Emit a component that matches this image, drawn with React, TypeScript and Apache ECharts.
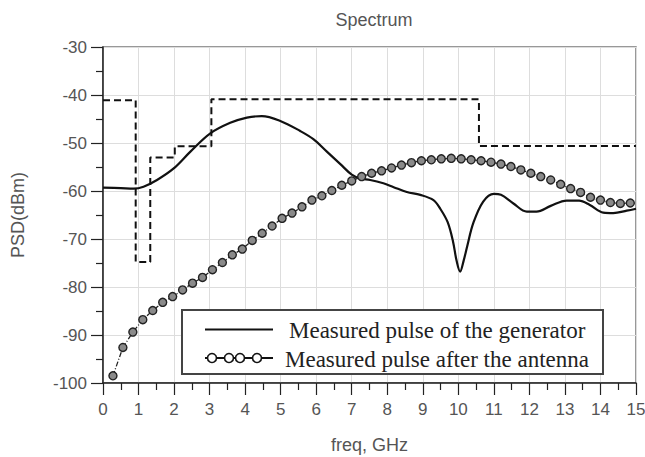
import React, { useEffect, useRef } from "react";
import * as echarts from "echarts";

// Measured pulse of the generator (solid)
const genFreq = [0, 0.5, 0.86, 1.14, 1.52, 1.99, 2.46, 3.02, 3.58, 4.05, 4.47, 4.99, 5.55, 5.92, 6.3, 6.68, 7.0, 7.24, 7.52, 7.89, 8.18, 8.55, 8.93, 9.3, 9.5, 9.7, 9.85, 9.95, 10.05, 10.15, 10.25, 10.42, 10.7, 11.0, 11.2, 11.55, 11.93, 12.2, 12.6, 13.05, 13.4, 13.7, 14.08, 14.36, 14.74, 15];
const genPsd = [-59.3, -59.4, -59.5, -59.1, -57.7, -55.3, -51.8, -48.0, -45.8, -44.7, -44.4, -45.4, -47.5, -49.2, -51.8, -54.4, -56.6, -57.4, -57.7, -58.4, -59.2, -60.2, -60.8, -61.9, -63.8, -66.5, -70.5, -74.5, -76.8, -74.5, -71.5, -66.7, -62.2, -60.6, -60.8, -62.6, -64.3, -64.3, -63.1, -62.0, -62.0, -62.9, -64.5, -64.6, -64.1, -63.7];

// Measured pulse after the antenna (circles)
const antFreq = [0.28, 0.56, 0.84, 1.12, 1.4, 1.68, 1.96, 2.24, 2.52, 2.8, 3.08, 3.36, 3.64, 3.92, 4.2, 4.48, 4.76, 5.04, 5.32, 5.6, 5.88, 6.16, 6.44, 6.72, 7.0, 7.28, 7.56, 7.84, 8.12, 8.4, 8.68, 8.96, 9.24, 9.52, 9.8, 10.08, 10.36, 10.64, 10.92, 11.2, 11.48, 11.76, 12.04, 12.32, 12.6, 12.88, 13.16, 13.44, 13.72, 14.0, 14.28, 14.56, 14.84];
const antPsd = [-98.5, -92.6, -89.4, -86.8, -84.9, -83.2, -82.0, -80.6, -79.2, -78.0, -76.4, -74.9, -73.3, -72.1, -70.3, -68.8, -67.3, -65.7, -64.6, -63.3, -61.9, -61.0, -59.9, -58.8, -57.9, -57.0, -56.3, -55.8, -55.2, -54.6, -54.1, -53.7, -53.5, -53.3, -53.2, -53.3, -53.5, -53.7, -54.0, -54.4, -54.9, -55.6, -56.3, -57.0, -57.7, -58.6, -59.5, -60.3, -61.3, -61.9, -62.4, -62.6, -62.5];

// Emission mask (dashed step line)
const maskFreq = [0, 0.92, 0.92, 1.33, 1.33, 2.02, 2.02, 3.05, 3.05, 10.58, 10.58, 15];
const maskPsd = [-41.1, -41.1, -74.8, -74.8, -53.0, -53.0, -50.7, -50.7, -40.9, -40.9, -50.6, -50.6];

const legendNames = ["Measured pulse of the generator", "Measured pulse after the antenna"];

const zip = (xs: number[], ys: number[]) => xs.map((x, i) => [x, ys[i]]);

export default function App() {
  const ref = useRef<HTMLDivElement>(null);
  useEffect(() => {
    if (!ref.current) return;
    const chart = echarts.init(ref.current, undefined, { renderer: "svg" });
    const fam = "Liberation Sans, Arial, sans-serif";
    const tickFont = { color: "#555", fontSize: 17, fontFamily: fam };
    const nameFont = { color: "#555", fontSize: 18, fontFamily: fam };
    chart.setOption({
      animation: false,
      backgroundColor: "#fff",
      title: {
        text: "Spectrum",
        left: 369,
        textAlign: "center",
        top: 6,
        textStyle: { ...nameFont, fontWeight: "normal" },
      },
      grid: {
        left: 103,
        right: 9,
        top: 47,
        bottom: 74,
        outerBoundsMode: "none",
        containLabel: false,
        show: true,
        borderColor: "#777",
        borderWidth: 1.5,
      },
      xAxis: {
        type: "value",
        min: 0,
        max: 15,
        interval: 1,
        name: "freq, GHz",
        nameLocation: "middle",
        nameGap: 53,
        nameTextStyle: nameFont,
        axisLine: { show: true, onZero: false, lineStyle: { color: "#222", width: 1.5 } },
        axisTick: { show: true, length: 12, lineStyle: { color: "#222", width: 1.2 } },
        minorTick: { show: true, splitNumber: 2, length: 7, lineStyle: { color: "#222", width: 1.2 } },
        axisLabel: { ...tickFont, margin: 18 },
        splitLine: { show: true, lineStyle: { color: "#ddd", width: 1 } },
      },
      yAxis: {
        type: "value",
        min: -100,
        max: -30,
        interval: 10,
        name: "PSD(dBm)",
        nameLocation: "middle",
        nameGap: 76,
        nameTextStyle: nameFont,
        axisLine: { show: true, onZero: false, lineStyle: { color: "#222", width: 1.5 } },
        axisTick: { show: true, length: 12, lineStyle: { color: "#222", width: 1.2 } },
        minorTick: { show: true, splitNumber: 2, length: 7, lineStyle: { color: "#222", width: 1.2 } },
        axisLabel: { ...tickFont, margin: 16 },
        splitLine: { show: true, lineStyle: { color: "#ddd", width: 1 } },
      },
      series: [
        {
          type: "line",
          name: "mask",
          data: zip(maskFreq, maskPsd),
          symbol: "none",
          lineStyle: { color: "#111", width: 2, type: [7, 4] },
        },
        {
          type: "line",
          name: legendNames[0],
          data: zip(genFreq, genPsd),
          symbol: "none",
          smooth: 0.35,
          lineStyle: { color: "#111", width: 2.2 },
        },
        {
          type: "line",
          name: legendNames[1],
          data: zip(antFreq, antPsd),
          symbol: "circle",
          symbolSize: 8,
          itemStyle: { color: "#8a8a8a", borderColor: "#222", borderWidth: 1.4 },
          lineStyle: { color: "#222", width: 1.3, type: [5, 2, 1, 2] },
        },
      ],
      graphic: [
        {
          type: "rect",
          shape: { x: 182, y: 310, width: 421, height: 64 },
          style: { fill: "#fff", stroke: "#444", lineWidth: 2 },
          z: 100,
        },
        {
          type: "line",
          shape: { x1: 205, y1: 329.5, x2: 273, y2: 329.5 },
          style: { stroke: "#111", lineWidth: 2.2 },
          z: 101,
        },
        {
          type: "line",
          shape: { x1: 205, y1: 358, x2: 273, y2: 358 },
          style: { stroke: "#111", lineWidth: 2 },
          z: 101,
        },
        ...[212, 229, 240, 257].map((cx) => ({
          type: "circle",
          shape: { cx, cy: 358, r: 4.5 },
          style: { fill: "#fff", stroke: "#111", lineWidth: 1.6 },
          z: 102,
        })),
        {
          type: "text",
          x: 289,
          y: 330,
          style: {
            text: legendNames[0],
            fill: "#222",
            font: "23px 'Liberation Serif', 'Times New Roman', serif",
            verticalAlign: "middle",
          },
          z: 103,
        },
        {
          type: "text",
          x: 285,
          y: 359,
          style: {
            text: legendNames[1],
            fill: "#222",
            font: "23px 'Liberation Serif', 'Times New Roman', serif",
            verticalAlign: "middle",
          },
          z: 103,
        },
      ],
    });
    return () => chart.dispose();
  }, []);
  return (
    <div
      ref={ref}
      style={{ position: "fixed", left: 0, top: 0, width: 645, height: 457 }}
    />
  );
}
